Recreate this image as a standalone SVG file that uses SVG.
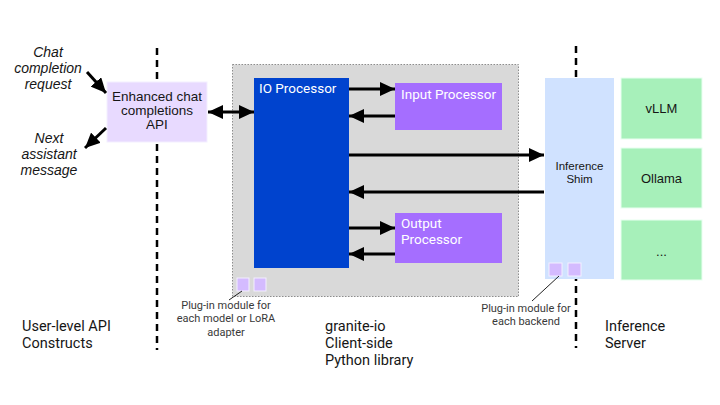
<svg xmlns="http://www.w3.org/2000/svg" width="720" height="405" viewBox="0 0 720 405">
<style>
.ln{stroke:#000;stroke-width:3;fill:none}
.dash{stroke:#000;stroke-width:2.5;stroke-dasharray:7 5;fill:none}
.lead{stroke:#222;stroke-width:1;fill:none}
.plex{font-family:Roboto,"Liberation Sans",sans-serif}
.ar{font-family:"Liberation Sans",Arial,sans-serif}
.lbl{font-size:14.5px;fill:#161616}
.note{font-size:11px;fill:#393939;text-anchor:middle}
.wt{fill:#fff;font-size:13.5px}
.sq{fill:#d4bbff;stroke:#f4efff;stroke-width:1}
.green{fill:#a7f0ba;stroke:#e8fff0;stroke-width:1}
.ctr{text-anchor:middle;font-size:13px;fill:#161616}
</style>
<defs>
<marker id="ah" viewBox="0 0 15 14" refX="15" refY="7" markerWidth="15" markerHeight="14" markerUnits="userSpaceOnUse" orient="auto-start-reverse">
<path d="M0,0 L15,7 L0,14 z" fill="#000"/>
</marker>
</defs>
<rect width="720" height="405" fill="#fff"/>
<g id="dividers">
<line class="dash" x1="157" y1="48" x2="157" y2="350"/>
<line class="dash" x1="576" y1="46" x2="576" y2="348"/>
</g>
<g id="client-library">
<rect x="232.5" y="64.5" width="286" height="232" fill="#d9d9d9" stroke="#8d8d8d" stroke-width="1" stroke-dasharray="1.5 1.5"/>
</g>
<g id="api-input-label">
<text class="ar" font-style="italic" font-size="14" fill="#161616" text-anchor="middle"><tspan x="48" y="57">Chat</tspan><tspan x="48" y="73">completion</tspan><tspan x="48" y="89">request</tspan></text>
</g>
<g id="api-output-label">
<text class="ar" font-style="italic" font-size="14" fill="#161616" text-anchor="middle"><tspan x="49" y="143">Next</tspan><tspan x="49" y="159">assistant</tspan><tspan x="49" y="175">message</tspan></text>
</g>
<g id="enhanced-api">
<rect x="107" y="82" width="100" height="60" fill="#e8daff" stroke="#f4efff" stroke-width="1"/>
<text class="ar" font-size="13.5" fill="#161616" text-anchor="middle"><tspan x="157" y="101">Enhanced chat</tspan><tspan x="157" y="115">completions</tspan><tspan x="157" y="129">API</tspan></text>
</g>
<g id="io-processor">
<rect x="254" y="78" width="95" height="190" fill="#0043ce"/>
<text class="plex wt" x="259" y="93">IO Processor</text>
</g>
<g id="input-processor">
<rect x="395" y="83" width="107" height="47" fill="#a56eff"/>
<text class="plex wt" x="401" y="99">Input Processor</text>
</g>
<g id="output-processor">
<rect x="395" y="213" width="107" height="50" fill="#a56eff"/>
<text class="plex wt"><tspan x="401" y="228">Output</tspan><tspan x="401" y="244">Processor</tspan></text>
</g>
<g id="model-plugins">
<rect class="sq" x="237" y="278" width="12" height="13"/>
<rect class="sq" x="254" y="278" width="12" height="13"/>
<line class="lead" x1="242" y1="291" x2="229" y2="300"/>
<text class="plex note"><tspan x="226" y="309">Plug-in module for</tspan><tspan x="226" y="322">each model or LoRA</tspan><tspan x="226" y="336">adapter</tspan></text>
</g>
<g id="inference-shim">
<rect x="545" y="78" width="69" height="201" fill="#d0e2ff"/>
<text class="ar" font-size="11.5" fill="#161616" text-anchor="middle"><tspan x="579.5" y="170">Inference</tspan><tspan x="579.5" y="183">Shim</tspan></text>
</g>
<g id="backend-plugins">
<rect class="sq" x="549" y="263" width="13" height="13"/>
<rect class="sq" x="568" y="263" width="13" height="13"/>
<line class="lead" x1="559" y1="276" x2="532" y2="301"/>
<text class="plex note"><tspan x="526" y="312">Plug-in module for</tspan><tspan x="526" y="325">each backend</tspan></text>
</g>
<g id="vllm">
<rect class="green" x="621" y="78" width="81" height="61"/>
<text class="ar ctr" x="661.5" y="113">vLLM</text>
</g>
<g id="ollama">
<rect class="green" x="621" y="148" width="81" height="60"/>
<text class="ar ctr" x="661.5" y="183">Ollama</text>
</g>
<g id="other-backends">
<rect class="green" x="621" y="220" width="81" height="60"/>
<text class="ar ctr" x="661.5" y="256">...</text>
</g>
<g id="connectors">
<line class="ln" x1="87" y1="72" x2="106" y2="93" marker-end="url(#ah)"/>
<line class="ln" x1="106" y1="128" x2="85" y2="148" marker-end="url(#ah)"/>
<line class="ln" x1="208" y1="112" x2="254" y2="112" marker-start="url(#ah)" marker-end="url(#ah)"/>
<line class="ln" x1="349" y1="89" x2="395" y2="89" marker-end="url(#ah)"/>
<line class="ln" x1="395" y1="116" x2="349" y2="116" marker-end="url(#ah)"/>
<line class="ln" x1="349" y1="155" x2="544" y2="155" marker-end="url(#ah)"/>
<line class="ln" x1="544" y1="192" x2="349" y2="192" marker-end="url(#ah)"/>
<line class="ln" x1="349" y1="228" x2="395" y2="228" marker-end="url(#ah)"/>
<line class="ln" x1="395" y1="254" x2="349" y2="254" marker-end="url(#ah)"/>
</g>
<g id="layer-labels">
<text class="plex lbl"><tspan x="22" y="331">User-level API</tspan><tspan x="22" y="348">Constructs</tspan></text>
<text class="plex lbl"><tspan x="325" y="331">granite-io</tspan><tspan x="325" y="348">Client-side</tspan><tspan x="325" y="365">Python library</tspan></text>
<text class="plex lbl"><tspan x="605" y="331">Inference</tspan><tspan x="605" y="348">Server</tspan></text>
</g>
</svg>
